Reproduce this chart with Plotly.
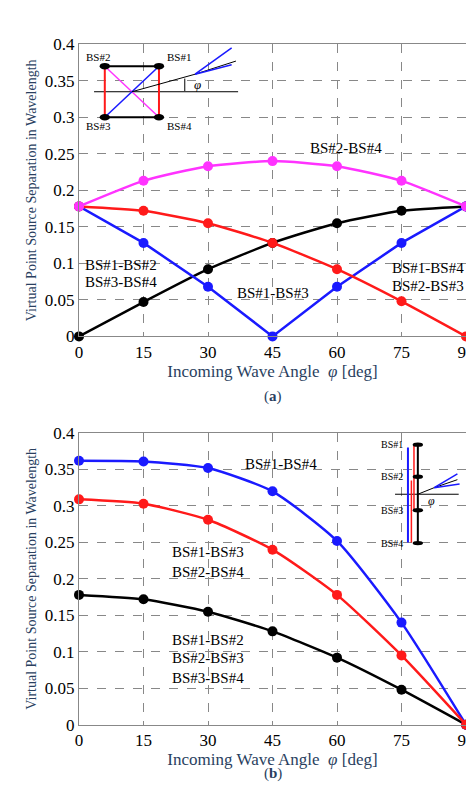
import plotly.graph_objects as go
from plotly.subplots import make_subplots

angles = [0, 15, 30, 45, 60, 75, 90]
a_black = [0.0, 0.047, 0.092, 0.128, 0.155, 0.172, 0.178]
a_red = [0.178, 0.172, 0.155, 0.128, 0.092, 0.048, 0.0]
a_blue = [0.178, 0.128, 0.068, 0.0, 0.068, 0.128, 0.178]
a_mag = [0.178, 0.213, 0.233, 0.240, 0.233, 0.213, 0.178]
b_blue = [0.362, 0.361, 0.352, 0.320, 0.252, 0.140, 0.0]
b_red = [0.309, 0.303, 0.281, 0.240, 0.178, 0.095, 0.0]
b_black = [0.178, 0.172, 0.155, 0.128, 0.092, 0.048, 0.0]
yticks = [0, 0.05, 0.1, 0.15, 0.2, 0.25, 0.3, 0.35, 0.4]
ytext = ["0", "0.05", "0.1", "0.15", "0.2", "0.25", "0.3", "0.35", "0.4"]

F = "Liberation Serif, DejaVu Serif, serif"
fig = make_subplots(rows=2, cols=1)

def add(x, y, c, row, shape="spline"):
    fig.add_trace(go.Scatter(x=x, y=y, mode="lines+markers", line=dict(color=c, width=2.5, shape=shape, smoothing=0.6),
                             marker=dict(color=c, size=10), showlegend=False, cliponaxis=False), row=row, col=1)

add(angles, a_black, "black", 1)
add(angles, a_blue, "#1a1aff", 1, "linear")
add(angles, a_red, "#ff1a1a", 1)
add(angles, a_mag, "#ff33ff", 1)
add(angles, b_black, "black", 2)
add(angles, b_blue, "#1a1aff", 2)
add(angles, b_red, "#ff1a1a", 2)

ax = dict(showgrid=True, gridcolor="#888", griddash="dash", gridwidth=1, showline=True, linecolor="#888",
          mirror=True, zeroline=False, tickfont=dict(family=F, size=17, color="black"), ticks="")
for r, dom in [(1, [0.590, 0.965]), (2, [0.0915, 0.466])]:
    fig.update_xaxes(ax, range=[0, 90], tickvals=angles, row=r, col=1,
                     title=dict(text="Incoming Wave Angle  <i>φ</i> [deg]", font=dict(family=F, size=17), standoff=2))
    fig.update_yaxes(ax, range=[0, 0.4], tickvals=yticks, ticktext=ytext, domain=dom, row=r, col=1,
                     title=dict(text="Virtual Point Source Separation in Wavelength", font=dict(family=F, size=14), standoff=4))

def txt(x, y, t, ref, size=15, xa="center"):
    fig.add_annotation(x=x, y=y, xref=ref[0], yref=ref[1], text=t, showarrow=False,
                       font=dict(family=F, size=size, color="black"), xanchor=xa)

r1 = ("x", "y"); r2 = ("x2", "y2")
txt(62, 0.258, "BS#2-BS#4", r1)
txt(1, 0.098, "BS#1-BS#2", r1, xa="left"); txt(1, 0.074, "BS#3-BS#4", r1, xa="left")
txt(45, 0.06, "BS#1-BS#3", r1)
txt(90, 0.093, "BS#1-BS#4", r1, xa="right"); txt(90, 0.069, "BS#2-BS#3", r1, xa="right")
txt(47, 0.358, "BS#1-BS#4", r2)
txt(30, 0.237, "BS#1-BS#3", r2); txt(30, 0.209, "BS#2-BS#4", r2)
txt(30, 0.116, "BS#1-BS#2", r2); txt(30, 0.092, "BS#2-BS#3", r2); txt(30, 0.064, "BS#3-BS#4", r2)
fig.add_annotation(x=0.5, y=1-389/798, xref="paper", yref="paper", text="(<b>a</b>)", showarrow=False, font=dict(family=F, size=15))
fig.add_annotation(x=0.5, y=1-786/798, xref="paper", yref="paper", text="(<b>b</b>)", showarrow=False, font=dict(family=F, size=15))

def ln(x0, y0, x1, y1, c, w, ref):
    fig.add_shape(type="line", x0=x0, y0=y0, x1=x1, y1=y1, xref=ref[0], yref=ref[1], line=dict(color=c, width=w))

def dot(x, y, ref, s=0.0045):
    fig.add_shape(type="circle", x0=x-1.2, x1=x+1.2, y0=y-s, y1=y+s, xref=ref[0], yref=ref[1], fillcolor="black", line=dict(color="black", width=0))

# inset (a)
ln(3.5, 0.335, 37, 0.335, "black", 1, r1)
ln(6, 0.37, 18.6, 0.37, "black", 2, r1); ln(6, 0.30, 18.6, 0.30, "black", 2, r1)
ln(6, 0.37, 6, 0.30, "#ff1a1a", 2, r1); ln(18.6, 0.37, 18.6, 0.30, "#ff1a1a", 2, r1)
ln(6, 0.37, 18.6, 0.30, "#ff33ff", 1.5, r1); ln(6, 0.30, 18.6, 0.37, "#1a1aff", 1.5, r1)
ln(12.3, 0.335, 27, 0.359, "black", 1, r1); ln(27, 0.359, 36.5, 0.377, "black", 1, r1)
ln(27, 0.359, 35.5, 0.395, "#1a1aff", 1.5, r1); ln(27, 0.359, 35.5, 0.372, "#1a1aff", 1.5, r1)
for x, y in [(6, 0.37), (18.6, 0.37), (6, 0.30), (18.6, 0.30)]:
    dot(x, y, r1)
ln(24.6, 0.336, 24.6, 0.353, "black", 1, r1)
txt(27.5, 0.345, "<i>φ</i>", r1, 13)
txt(4.5, 0.382, "BS#2", r1, 11); txt(20, 0.382, "BS#1", r1, 11, "left")
txt(4.5, 0.288, "BS#3", r1, 11); txt(20, 0.288, "BS#4", r1, 11, "left")

# inset (b)
ln(73.5, 0.316, 88.3, 0.316, "black", 1, r2)
ln(78.8, 0.384, 78.8, 0.249, "black", 2, r2)
ln(76.5, 0.38, 76.5, 0.25, "#1a1aff", 2, r2)
ln(77.9, 0.382, 77.9, 0.295, "#ff1a1a", 1.5, r2)
ln(77.3, 0.335, 77.3, 0.25, "#ff1a1a", 1.5, r2)
ln(78.8, 0.316, 82.6, 0.325, "black", 1, r2); ln(82.6, 0.325, 88, 0.336, "black", 1, r2)
ln(82.6, 0.325, 88, 0.344, "#1a1aff", 1.5, r2); ln(82.6, 0.325, 88.5, 0.330, "#1a1aff", 1.5, r2)
for y in [0.384, 0.34, 0.294, 0.249]:
    dot(78.8, y, r2, 0.003)
txt(82, 0.307, "<i>φ</i>", r2, 12)
for y, t in [(0.384, "BS#1"), (0.34, "BS#2"), (0.294, "BS#3"), (0.249, "BS#4")]:
    txt(75.8, y, t, r2, 10, "right")

fig.update_layout(width=474, height=798, margin=dict(l=71, r=16, t=0, b=0), plot_bgcolor="white", paper_bgcolor="white")
fig.write_html("out.html")
